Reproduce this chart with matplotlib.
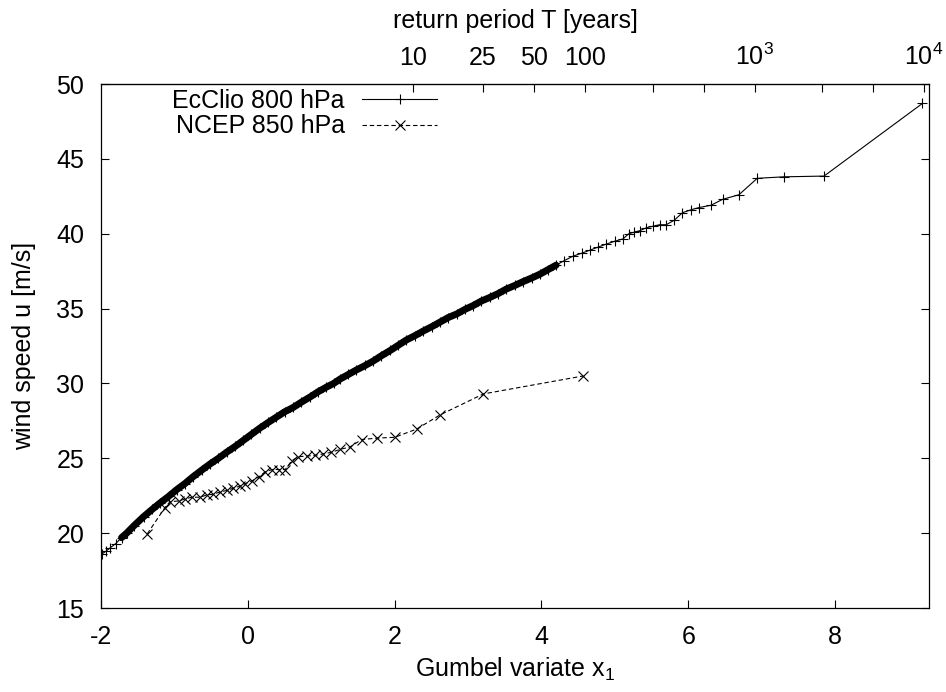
"""
Gumbel plot of annual wind speed maxima, EcClio vs NCEP
"""
import numpy as np
import matplotlib
matplotlib.use("Agg")
import matplotlib.pyplot as plt

plt.rcParams["font.family"] = ["Liberation Sans", "DejaVu Sans"]
plt.rcParams["font.size"] = 18
plt.rcParams["mathtext.default"] = "regular"
plt.rcParams["axes.unicode_minus"] = False

# values (Gumbel variate, wind speed in m/s)
ecclio_x = [-1.99, -1.93, -1.88, -1.80, -1.72, -1.65, -1.55, -1.42, -1.30, -1.20,
            -1.08, -0.97, -0.86, -0.75, -0.63, -0.52, -0.40, -0.29, -0.17, -0.06,
            0.05, 0.16, 0.28, 0.39, 0.50, 0.62, 0.73, 0.85, 0.96, 1.07,
            1.17, 1.26, 1.37, 1.48, 1.60, 1.71, 1.82, 1.94, 2.05, 2.16,
            2.28, 2.39, 2.51, 2.62, 2.73, 2.85, 2.96, 3.07, 3.18, 3.30,
            3.41, 3.52, 3.64, 3.75, 3.87, 3.98, 4.09, 4.20, 4.31, 4.43,
            4.55, 4.66, 4.77, 4.88, 5.00, 5.11, 5.19, 5.26, 5.34, 5.43,
            5.52, 5.61, 5.70, 5.81, 5.92, 6.04, 6.15, 6.31, 6.47, 6.69,
            6.94, 7.30, 7.85, 9.19]
ecclio_u = [18.6, 18.8, 19.0, 19.3, 19.7, 20.0, 20.5, 21.1, 21.6, 22.0,
            22.45, 22.9, 23.3, 23.75, 24.2, 24.6, 25.0, 25.4, 25.8, 26.2,
            26.6, 27.0, 27.4, 27.75, 28.1, 28.4, 28.75, 29.1, 29.45, 29.75,
            30.0, 30.3, 30.6, 30.9, 31.2, 31.5, 31.85, 32.2, 32.55, 32.9,
            33.2, 33.5, 33.8, 34.1, 34.4, 34.65, 34.95, 35.2, 35.5, 35.75,
            36.0, 36.3, 36.55, 36.8, 37.05, 37.3, 37.6, 37.9, 38.2, 38.5,
            38.7, 38.9, 39.1, 39.3, 39.5, 39.65, 40.0, 40.1, 40.2, 40.4,
            40.5, 40.6, 40.6, 40.9, 41.4, 41.6, 41.75, 41.9, 42.3, 42.6,
            43.7, 43.8, 43.85, 48.7]

ncep_x = [-1.37, -1.13, -1.06, -0.94, -0.85, -0.76, -0.65, -0.56, -0.47, -0.38,
          -0.29, -0.20, -0.10, -0.04, 0.06, 0.15, 0.24, 0.33, 0.42, 0.51,
          0.60, 0.69, 0.80, 0.92, 1.03, 1.14, 1.26, 1.39, 1.55, 1.76,
          2.00, 2.30, 2.62, 3.21, 4.57]
ncep_u = [19.95, 21.7, 22.1, 22.15, 22.3, 22.4, 22.4, 22.55, 22.6, 22.75,
          22.85, 23.0, 23.15, 23.3, 23.5, 23.75, 24.1, 24.25, 24.25, 24.25,
          24.85, 25.1, 25.15, 25.2, 25.3, 25.4, 25.6, 25.75, 26.25, 26.35,
          26.4, 26.95, 27.9, 29.3, 30.5]

# return periods shown on the top axis
rp_ticks = [10, 25, 50, 100, 250, 500, 1000, 2500, 5000, 10000]
rp_labels = ["10", "25", "50", "100", "", "", "$10^3$", "", "", "$10^4$"]


def x_to_T(x):
    x = np.asarray(x, dtype=float)
    return 1.0 / (-np.expm1(-np.exp(-x)))


def T_to_x(T):
    T = np.clip(np.asarray(T, dtype=float), 1.0 + 1e-9, None)
    return -np.log(-np.log1p(-1.0 / T))


fig = plt.figure(figsize=(9.46, 6.92), dpi=100)
ax = fig.add_axes([101 / 946, 1 - 608 / 692, 828 / 946, 524 / 692])

ex = np.array(ecclio_x)
eu = np.array(ecclio_u)
dense = (ex >= -1.75) & (ex <= 4.3)

# the many overlapping EcClio points form a solid band
ax.plot(ex[dense], eu[dense], "-", color="black", lw=5,
        solid_capstyle="round", solid_joinstyle="round", zorder=2)
line_e, = ax.plot(ex, eu, "-", marker="+", color="black", lw=0.8,
                  ms=7, mew=0.8, label="EcClio 800 hPa", zorder=3)
line_n, = ax.plot(ncep_x, ncep_u, "--", marker="x", color="black", lw=0.8,
                  ms=6.5, mew=0.8, dashes=(4, 2.5), label="NCEP 850 hPa",
                  zorder=3)

ax.set_xlim(-2, 9.28)
ax.set_ylim(15, 50)
ax.set_xticks([-2, 0, 2, 4, 6, 8])
ax.set_yticks([15, 20, 25, 30, 35, 40, 45, 50])
ax.tick_params(axis="x", direction="in", length=6, width=0.8, pad=12,
               top=False)
ax.tick_params(axis="y", direction="in", length=6, width=0.8, pad=12,
               right=True)
for sp in ax.spines.values():
    sp.set_linewidth(0.9)

ax.set_xlabel("Gumbel variate $x_1$", labelpad=5)
ax.set_ylabel("wind speed u [m/s]")
ax.yaxis.set_label_coords(-0.078, 0.5)

sec = ax.secondary_xaxis("top", functions=(x_to_T, T_to_x))
sec.set_xticks(rp_ticks)
sec.set_xticklabels(rp_labels)
sec.xaxis.set_minor_locator(matplotlib.ticker.NullLocator())
sec.tick_params(axis="x", direction="in", length=6, width=0.8, pad=10)
sec.set_xlabel("return period T [years]", labelpad=11)

leg = ax.legend(handles=[line_e, line_n], loc="upper right",
                bbox_to_anchor=(0.406, 0.99), frameon=False,
                markerfirst=False, handlelength=3.0, handletextpad=0.7,
                labelspacing=0.05, borderpad=0, borderaxespad=0)

fig.savefig("out.png", dpi=100)
